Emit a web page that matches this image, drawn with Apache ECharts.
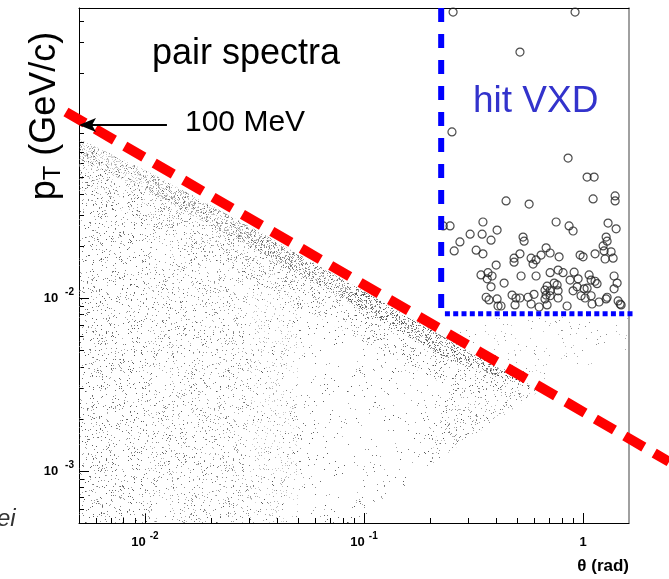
<!DOCTYPE html>
<html><head><meta charset="utf-8">
<script src="https://cdn.jsdelivr.net/npm/echarts@6/dist/echarts.min.js"></script>
<style>html,body{margin:0;padding:0;background:#fff}#c{width:669px;height:579px}</style>
</head><body><div id="c"></div>
<script>
// ---- axes ----
const xRange = [0.005, 1.62];
const yRange = [0.0005, 0.475];
const xMajorTicks = [0.01, 0.1, 1];
const yMajorTicks = [0.001, 0.01, 0.1];
const xMinorTicks = [0.006,0.007,0.008,0.009,0.02,0.03,0.04,0.05,0.06,0.07,0.08,0.09,0.2,0.3,0.4,0.5,0.6,0.7,0.8,0.9];
const yMinorTicks = [0.0006,0.0007,0.0008,0.0009,0.002,0.003,0.004,0.005,0.006,0.007,0.008,0.009,0.02,0.03,0.04,0.05,0.06,0.07,0.08,0.09,0.2,0.3,0.4];
const xTickLabels = [[0.01,'10','-2'],[0.1,'10','-1'],[1,'1','']];
const yTickLabels = [[0.001,'10','-3'],[0.01,'10','-2']];

// ---- open circles: pairs hitting the VXD (theta rad, pT GeV/c) ----
const vxdHits = [
[0.255,0.450],[0.919,0.450],[0.515,0.264],[0.252,0.0912],[0.854,0.0644],[1.043,0.0500],[1.123,0.0500],
[0.230,0.0261],[0.247,0.0261],[0.445,0.0364],[0.567,0.0349],[1.111,0.0374],[1.400,0.0389],[1.400,0.0364],
[0.349,0.0275],[0.753,0.0275],[0.863,0.0261],[0.900,0.0244],[1.300,0.0271],[1.415,0.0251],
[0.305,0.0234],[0.346,0.0234],[0.405,0.0247],[0.274,0.0211],[0.380,0.0216],[0.532,0.0225],[0.538,0.0213],
[0.258,0.0187],[0.325,0.0189],[0.349,0.0180],[1.274,0.0225],[1.287,0.0213],[1.234,0.0200],[1.247,0.0187],[1.342,0.0185],
[0.678,0.0195],[0.707,0.0182],[0.643,0.0177],[0.515,0.0180],[0.484,0.0170],[0.484,0.0161],[0.579,0.0170],[0.610,0.0166],[0.591,0.0157],
[0.777,0.0173],[0.969,0.0177],[1.000,0.0173],[1.134,0.0180],[1.260,0.0168],[1.371,0.0170],
[0.401,0.0155],[0.342,0.0136],[0.368,0.0140],[0.384,0.0134],[0.365,0.0129],[0.380,0.0116],[0.436,0.0122],
[0.521,0.0134],[0.610,0.0134],[0.707,0.0140],[0.769,0.0145],[0.810,0.0140],[0.872,0.0127],[0.949,0.0129],[0.910,0.0141],
[1.065,0.0136],[1.088,0.0127],[1.134,0.0125],[1.158,0.0121],[1.385,0.0134],[1.430,0.0122],[1.385,0.0113],
[0.685,0.0117],[0.670,0.0111],[0.738,0.0122],[0.761,0.0119],[0.769,0.0110],[0.707,0.0110],[0.678,0.0104],[0.707,0.0103],
[0.670,0.00987],[0.769,0.0100],[0.900,0.0110],[0.939,0.0116],[1.011,0.0113],[1.043,0.0114],[0.979,0.0103],[1.021,0.0100],[1.088,0.0103],
[0.597,0.0105],[0.361,0.0101],[0.372,0.00974],[0.405,0.00987],[0.474,0.0104],[0.494,0.0100],[0.515,0.0100],[0.561,0.0101],
[0.579,0.00923],[0.630,0.00887],[0.685,0.00912],[0.845,0.00899],[1.099,0.00923],[1.183,0.00948],[1.274,0.00987],[1.287,0.0101],
[1.445,0.00961],[1.491,0.00912],[1.476,0.00923],[0.409,0.00899],[0.422,0.00899],[0.489,0.00912]
];

// ---- lines ----
const cutLine = [[0.00436,0.119],[2.47,0.00113]];
const vxdThetaEdge = [[0.225,0.475],[0.225,0.0085]];
const vxdPtEdge = [[0.234,0.0081],[1.69,0.0081]];
const arrowAt = [[0.005,0.1],[0.0126,0.1]];

// ---- pair-spectrum cloud, region boundaries ----
const cloudOutline = [[0.005,0.083],[0.0104,0.0535],[0.0298,0.0261],[0.0855,0.0122],[0.2445,0.00571],[0.63,0.0029],[0.198,0.00107],[0.095,0.0005],[0.005,0.0005]];
const cloudBandEdge = [[0.005,0.083],[0.0104,0.0535],[0.0298,0.0261],[0.0855,0.0122],[0.2445,0.00571],[0.63,0.0029]];
const cloudBandMid = [[0.005,0.0635],[0.0104,0.0410],[0.0298,0.0200],[0.0855,0.00935],[0.2445,0.00439],[0.63,0.0029]];
const cloudBandInner = [[0.005,0.0427],[0.0104,0.0268],[0.0298,0.0129],[0.0855,0.00619],[0.2445,0.00306],[0.63,0.0029]];
const cloudLeftTop = [[0.005,0.083],[0.0104,0.0535],[0.0298,0.0261],[0.05,0.0181]];
const cloudTip = [[0.2445,0.00306],[0.63,0.0029],[0.198,0.00107]];
const cloudSparse = [[0.2445,0.00571],[0.335,0.0078],[1.62,0.0078],[1.62,0.00494],[0.63,0.0029]];
// relative dot density of the cloud sub-regions
const bandWideDensity = [0.55, 0.7, 0.85, 1.0, 1.0];
const bandEdgeDensity = [0.35, 0.55, 0.8, 1.0, 1.0];
const leftStripDensity = [1.0, 0.8, 0.5];

const FONT = 'Liberation Sans, Arial, sans-serif';

// stipple textures (fill style only, deterministic hash)
function hash(i){
  let a = Math.imul(i, 0x6D2B79F5) | 0;
  let t = Math.imul(a ^ (a >>> 15), a | 1);
  t ^= t + Math.imul(t ^ (t >>> 7), t | 61);
  return ((t ^ (t >>> 14)) >>> 0) / 4294967296;
}
function makeTile(size, count, seed){
  const c = document.createElement('canvas'); c.width = size; c.height = size;
  const g = c.getContext('2d');
  for (let i = 0; i < count; i++){
    const k = seed + i * 3;
    const x = Math.floor(hash(k) * size), y = Math.floor(hash(k + 1) * size);
    const s = 40 + Math.floor(hash(k + 2) * 120);
    g.fillStyle = 'rgba(' + s + ',' + s + ',' + s + ',0.8)';
    g.fillRect(x, y, 1, 1);
  }
  return {type:'pattern', image:c, repeat:'repeat'};
}
const texSparse = makeTile(131, 260, 11);
const texLeft = makeTile(127, 780, 40011);
const texMed = makeTile(137, 1100, 90017);
const texDense = makeTile(139, 4400, 170023);

const chart = echarts.init(document.getElementById('c'), null, {renderer:'canvas'});

function renderCloud(params, api){
  const P = arr => arr.map(p => api.coord(p));
  const ch = [];
  const E = P(cloudBandEdge), M = P(cloudBandMid), I = P(cloudBandInner);
  const bottom = api.coord([xRange[0], yRange[0]])[1];
  const LT = P(cloudLeftTop);
  for (let i = 0; i < LT.length - 1; i++){
    ch.push({type:'polygon', shape:{points:[LT[i], LT[i+1], [LT[i+1][0], bottom], [LT[i][0], bottom]]},
      style:{fill:texLeft, opacity:leftStripDensity[i]}});
  }
  for (let i = 0; i < E.length - 1; i++){
    ch.push({type:'polygon', shape:{points:[E[i], E[i+1], I[i+1], I[i]]}, style:{fill:texMed, opacity:bandWideDensity[i]}});
    ch.push({type:'polygon', shape:{points:[E[i], E[i+1], M[i+1], M[i]]}, style:{fill:texDense, opacity:bandEdgeDensity[i]}});
  }
  ch.push({type:'polygon', shape:{points:P(cloudTip)}, style:{fill:texMed, opacity:0.8}});
  ch.push({type:'polygon', shape:{points:P(cloudOutline)}, style:{fill:texSparse}});
  ch.push({type:'polygon', shape:{points:P(cloudSparse)}, style:{fill:texSparse, opacity:0.7}});
  return {type:'group', children:ch};
}
function lineRenderer(points, style){
  return function(params, api){
    return {type:'polyline', shape:{points:points.map(p => api.coord(p))}, style:Object.assign({fill:null, lineCap:'butt'}, style)};
  };
}
function renderArrow(params, api){
  const tip = api.coord(arrowAt[0]);
  const end = api.coord(arrowAt[1]);
  return {type:'group', children:[
    {type:'line', shape:{x1:tip[0] + 12, y1:tip[1], x2:end[0], y2:end[1]}, style:{stroke:'#000', lineWidth:2}},
    {type:'polygon', shape:{points:[[tip[0], tip[1]], [tip[0] + 17, tip[1] - 7], [tip[0] + 13, tip[1]], [tip[0] + 17, tip[1] + 7]]}, style:{fill:'#000'}}
  ]};
}

function labelFmt(list){
  return function(v){
    for (const t of list){
      if (Math.abs(v - t[0]) / t[0] < 1e-6) return t[2] ? '{b|' + t[1] + '}{s|' + t[2] + '}' : '{b|' + t[1] + '}';
    }
    return '';
  };
}
const richX = {
  b:{fontFamily:FONT, fontWeight:'bold', fontSize:13, color:'#000', lineHeight:14, verticalAlign:'bottom'},
  s:{fontFamily:FONT, fontWeight:'bold', fontSize:10, color:'#000', lineHeight:10, padding:[0,0,8,4], verticalAlign:'bottom'}
};
const richY = {
  b:{fontFamily:FONT, fontWeight:'bold', fontSize:13, color:'#000', lineHeight:14, verticalAlign:'bottom'},
  s:{fontFamily:FONT, fontWeight:'bold', fontSize:10, color:'#000', lineHeight:10, padding:[0,0,8,7], verticalAlign:'bottom'}
};

function logAxis(range, extra){
  return Object.assign({type:'log', logBase:10, min:range[0], max:range[1], splitLine:{show:false}, minorTick:{show:false}, minorSplitLine:{show:false}}, extra);
}

const option = {
  animation:false,
  backgroundColor:'#fff',
  textStyle:{fontFamily:FONT},
  grid:{left:79, right:40, top:8, bottom:56, containLabel:false},
  xAxis:[
    logAxis(xRange, {position:'bottom',
      axisLine:{show:true, lineStyle:{color:'#000', width:1}},
      axisTick:{show:true, inside:true, length:10, customValues:xMajorTicks, lineStyle:{color:'#000', width:1}},
      axisLabel:{show:true, customValues:xTickLabels.map(t=>t[0]), formatter:labelFmt(xTickLabels), rich:richX, margin:12}}),
    logAxis(xRange, {position:'bottom',
      axisLine:{show:false},
      axisTick:{show:true, inside:true, length:5, customValues:xMinorTicks, lineStyle:{color:'#000', width:1}},
      axisLabel:{show:false}}),
    logAxis(xRange, {position:'top',
      axisLine:{show:true, lineStyle:{color:'#000', width:1}}, axisTick:{show:false}, axisLabel:{show:false}})
  ],
  yAxis:[
    logAxis(yRange, {position:'left',
      axisLine:{show:true, lineStyle:{color:'#000', width:1}},
      axisTick:{show:true, inside:true, length:10, customValues:yMajorTicks, lineStyle:{color:'#000', width:1}},
      axisLabel:{show:true, customValues:yTickLabels.map(t=>t[0]), formatter:labelFmt(yTickLabels), rich:richY, margin:5}}),
    logAxis(yRange, {position:'left',
      axisLine:{show:false},
      axisTick:{show:true, inside:true, length:5, customValues:yMinorTicks, lineStyle:{color:'#000', width:1}},
      axisLabel:{show:false}}),
    logAxis(yRange, {position:'right',
      axisLine:{show:true, lineStyle:{color:'#808080', width:1.5}}, axisTick:{show:false}, axisLabel:{show:false}})
  ],
  series:[
    {type:'custom', name:'pair spectra', renderItem:renderCloud, data:[[0.01,0.01]], silent:true, z:1, clip:true},
    {type:'scatter', name:'hit VXD', data:vxdHits, symbol:'circle', symbolSize:8, z:3, silent:true,
      itemStyle:{color:'rgba(0,0,0,0)', borderColor:'#1e1e1e', borderWidth:1.2}},
    {type:'custom', renderItem:lineRenderer(vxdThetaEdge, {stroke:'#0000ff', lineWidth:6, lineDash:[14,12]}), data:[[0.5,0.05]], z:4, silent:true, clip:false},
    {type:'custom', renderItem:lineRenderer(vxdPtEdge, {stroke:'#0000ff', lineWidth:5, lineDash:[5,3.3]}), data:[[0.5,0.05]], z:4, silent:true, clip:false},
    {type:'custom', renderItem:lineRenderer(cutLine, {stroke:'#ff0000', lineWidth:10, lineDash:[22,12]}), data:[[0.05,0.01]], z:5, silent:true, clip:false},
    {type:'custom', renderItem:renderArrow, data:[[0.01,0.1]], z:6, silent:true, clip:false}
  ],
  graphic:[
    {type:'text', x:152, y:54, z:10, style:{text:'pair spectra', fontFamily:FONT, fontSize:36, fill:'#000', align:'left', verticalAlign:'middle'}},
    {type:'text', x:185, y:123, z:10, style:{text:'100 MeV', fontFamily:FONT, fontSize:30, fill:'#000', align:'left', verticalAlign:'middle'}},
    {type:'text', x:473, y:102, z:10, style:{text:'hit VXD', fontFamily:FONT, fontSize:37, fill:'#3333cc', align:'left', verticalAlign:'middle'}},
    {type:'text', x:45, y:116, rotation:Math.PI/2, z:10, style:{
      text:'{p|p}{t|T}{p| (GeV/c)}', align:'center', verticalAlign:'middle',
      rich:{p:{fontFamily:FONT, fontSize:36, lineHeight:40, fill:'#000', verticalAlign:'middle'},
            t:{fontFamily:FONT, fontSize:24, lineHeight:24, fill:'#000', verticalAlign:'bottom'}}}},
    {type:'text', x:629, y:566, z:10, style:{text:'\u03b8 (rad)', fontFamily:FONT, fontSize:17, fontWeight:'bold', fill:'#000', align:'right', verticalAlign:'middle'}},
    {type:'text', x:-3, y:519, z:10, style:{text:'ei', fontFamily:FONT, fontSize:24, fontStyle:'italic', fill:'#333', align:'left', verticalAlign:'middle'}}
  ]
};
chart.setOption(option);
</script></body></html>
